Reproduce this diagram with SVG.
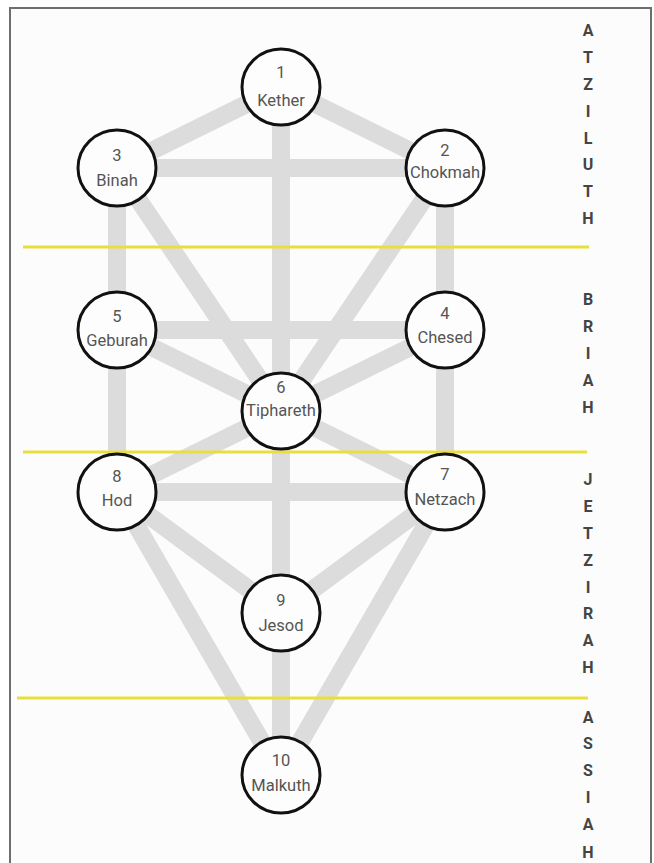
<svg xmlns="http://www.w3.org/2000/svg" width="654" height="863" viewBox="0 0 654 863">
<style>
.frame{fill:#fcfcfc;stroke:#6e6e6e;stroke-width:2}
.path{stroke:#dcdcdc;stroke-width:18;stroke-linecap:butt;fill:none}
.world{stroke:#e8df3c;stroke-width:3}
.node ellipse{fill:#fdfdfd;stroke:#111;stroke-width:3}
.node text{font-family:Roboto,"Liberation Sans",sans-serif;font-size:16.5px;fill:#555;text-anchor:middle}
.lbl{font-family:Roboto,"Liberation Sans",sans-serif;font-size:16px;font-weight:bold;fill:#444;text-anchor:middle}
</style>
<rect width="654" height="863" fill="#ffffff"/>
<rect class="frame" x="10" y="8" width="641" height="880"/>
<g id="connectors">
<line class="path" x1="281" y1="87" x2="117" y2="168"/>
<line class="path" x1="281" y1="87" x2="445" y2="168"/>
<line class="path" x1="281" y1="87" x2="281" y2="775"/>
<line class="path" x1="117" y1="168" x2="445" y2="168"/>
<line class="path" x1="117" y1="168" x2="117" y2="492"/>
<line class="path" x1="445" y1="168" x2="445" y2="492"/>
<line class="path" x1="117" y1="168" x2="281" y2="411"/>
<line class="path" x1="445" y1="168" x2="281" y2="411"/>
<line class="path" x1="117" y1="330" x2="445" y2="330"/>
<line class="path" x1="117" y1="330" x2="281" y2="411"/>
<line class="path" x1="445" y1="330" x2="281" y2="411"/>
<line class="path" x1="281" y1="411" x2="117" y2="492"/>
<line class="path" x1="281" y1="411" x2="445" y2="492"/>
<line class="path" x1="117" y1="492" x2="445" y2="492"/>
<line class="path" x1="117" y1="492" x2="281" y2="613"/>
<line class="path" x1="445" y1="492" x2="281" y2="613"/>
<line class="path" x1="117" y1="492" x2="281" y2="775"/>
<line class="path" x1="445" y1="492" x2="281" y2="775"/>
</g>
<g id="worlds">
<line class="world" x1="23" y1="247" x2="589" y2="247"/>
<line class="world" x1="23" y1="452" x2="587" y2="452"/>
<line class="world" x1="17" y1="698" x2="588" y2="698"/>
</g>
<g id="n1" class="node"><ellipse cx="281" cy="87" rx="39" ry="38"/><text x="281" y="78">1</text><text x="281" y="106">Kether</text></g>
<g id="n3" class="node"><ellipse cx="117" cy="168" rx="39" ry="38"/><text x="117" y="161">3</text><text x="117" y="186">Binah</text></g>
<g id="n2" class="node"><ellipse cx="445" cy="168" rx="39" ry="38"/><text x="445" y="156">2</text><text x="445" y="178">Chokmah</text></g>
<g id="n5" class="node"><ellipse cx="117" cy="330" rx="39" ry="38"/><text x="117" y="322">5</text><text x="117" y="346">Geburah</text></g>
<g id="n4" class="node"><ellipse cx="445" cy="330" rx="39" ry="38"/><text x="445" y="319">4</text><text x="445" y="343">Chesed</text></g>
<g id="n6" class="node"><ellipse cx="281" cy="411" rx="39" ry="38"/><text x="281" y="393">6</text><text x="281" y="416">Tiphareth</text></g>
<g id="n8" class="node"><ellipse cx="117" cy="492" rx="39" ry="38"/><text x="117" y="482">8</text><text x="117" y="506">Hod</text></g>
<g id="n7" class="node"><ellipse cx="445" cy="492" rx="39" ry="38"/><text x="445" y="480">7</text><text x="445" y="505">Netzach</text></g>
<g id="n9" class="node"><ellipse cx="281" cy="613" rx="39" ry="38"/><text x="281" y="606">9</text><text x="281" y="631">Jesod</text></g>
<g id="n10" class="node"><ellipse cx="281" cy="775" rx="39" ry="38"/><text x="281" y="766">10</text><text x="281" y="791">Malkuth</text></g>
<g id="world-labels" class="lbl">
<text x="588" y="36">A</text><text x="588" y="63">T</text><text x="588" y="90">Z</text><text x="588" y="117">I</text><text x="588" y="144">L</text><text x="588" y="170">U</text><text x="588" y="197">T</text><text x="588" y="224">H</text>
<text x="588" y="305">B</text><text x="588" y="332">R</text><text x="588" y="359">I</text><text x="588" y="386">A</text><text x="588" y="413">H</text>
<text x="588" y="485">J</text><text x="588" y="512">E</text><text x="588" y="539">T</text><text x="588" y="566">Z</text><text x="588" y="593">I</text><text x="588" y="619">R</text><text x="588" y="646">A</text><text x="588" y="673">H</text>
<text x="588" y="723">A</text><text x="588" y="749">S</text><text x="588" y="776">S</text><text x="588" y="803">I</text><text x="588" y="830">A</text><text x="588" y="858">H</text>
</g>
</svg>
